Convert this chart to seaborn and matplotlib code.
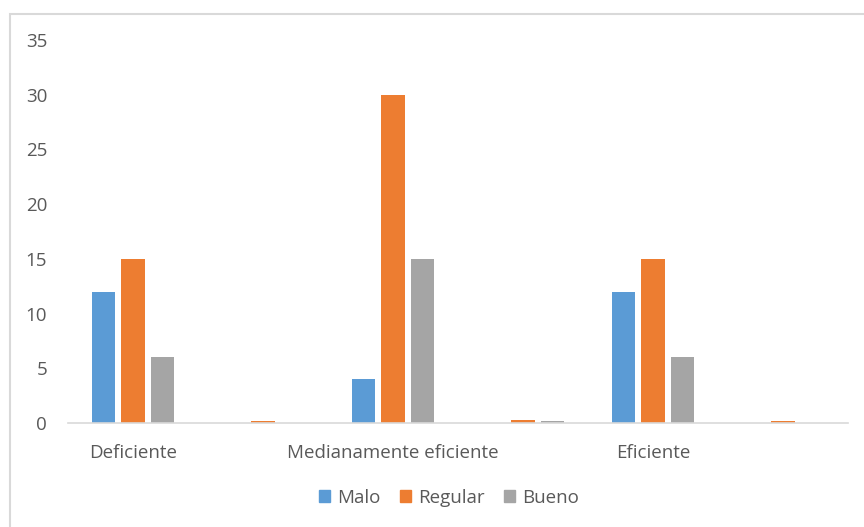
import matplotlib
matplotlib.use("Agg")
import matplotlib.pyplot as plt
import seaborn as sns
import pandas as pd
from matplotlib.patches import Rectangle

categories = ["Deficiente", "", "Medianamente eficiente", "", "Eficiente", ""]
series = ["Malo", "Regular", "Bueno"]
malo = [12, 0, 4, 0, 12, 0]
regular = [15, 0.2, 30, 0.25, 15, 0.2]
bueno = [6, 0, 15, 0.15, 6, 0]
colors = ["#5B9BD5", "#ED7D31", "#A5A5A5"]
yticks = [0, 5, 10, 15, 20, 25, 30, 35]

rows = []
for i in range(len(categories)):
    for name, vals in zip(series, [malo, regular, bueno]):
        rows.append({"pos": i, "serie": name, "valor": vals[i]})
df = pd.DataFrame(rows)

sns.set_theme(style="white")
plt.rcParams["font.family"] = ["Open Sans", "DejaVu Sans"]
text_color = "#595959"

fig = plt.figure(figsize=(8.64, 5.27), dpi=100)
ax = fig.add_axes([68 / 864, 1 - 423 / 527, (848 - 68) / 864, (423 - 40) / 527])

sns.barplot(data=df, x="pos", y="valor", hue="serie", order=list(range(len(categories))),
            hue_order=series, palette=colors, width=0.68, gap=0.2,
            saturation=1, linewidth=0, ax=ax, legend=False)

ax.set_ylim(0, 35)
ax.set_xlim(-0.5, len(categories) - 0.5)
ax.set_yticks(yticks)
ax.set_yticklabels([str(v) for v in yticks], color=text_color, fontsize=13.5)
ax.set_xticks(range(len(categories)))
ax.set_xticklabels(categories, color=text_color, fontsize=13.5)
ax.tick_params(axis="both", length=0)
ax.tick_params(axis="x", pad=15)
ax.tick_params(axis="y", pad=15)
ax.set_xlabel("")
ax.set_ylabel("")
for side in ["top", "right", "left"]:
    ax.spines[side].set_visible(False)
ax.spines["bottom"].set_color("#D9D9D9")
ax.spines["bottom"].set_linewidth(1.2)
ax.grid(False)

handles = [Rectangle((0, 0), 1, 1, color=c) for c in colors]
fig.legend(handles, series, loc="center", bbox_to_anchor=(449 / 864, 1 - 498 / 527), ncol=3,
           frameon=False, fontsize=13.5, handlelength=0.6, handleheight=0.6,
           handletextpad=0.4, columnspacing=1.0, labelcolor=text_color)

fig.patches.append(Rectangle((10 / 864, -0.05), 1.0, 1.05 - 14 / 527, transform=fig.transFigure,
                             fill=False, edgecolor="#D9D9D9", linewidth=1.5))

fig.savefig("out.png", dpi=100, facecolor="white")
